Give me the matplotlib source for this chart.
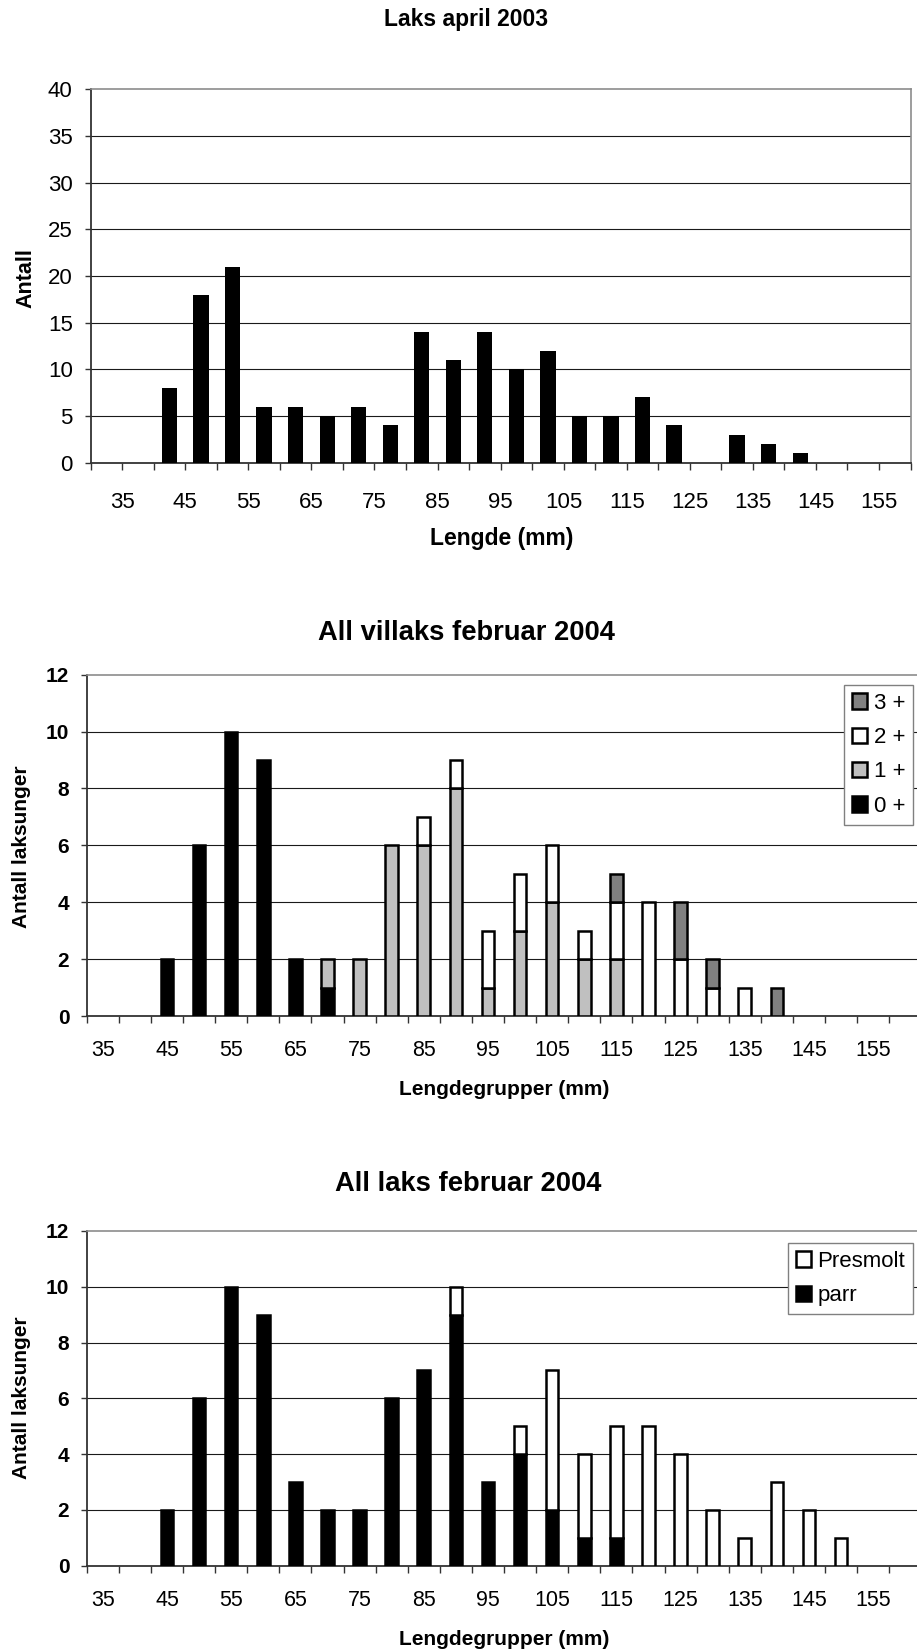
import numpy as np
import matplotlib
matplotlib.use('Agg')
import matplotlib.pyplot as plt

plt.rcParams['font.family'] = ['Liberation Sans', 'DejaVu Sans']

W, H = 917, 1650

# Laks april 2003: lower edge of each 5 mm length bin and number of fish
bins_2003 = [30, 35, 40, 45, 50, 55, 60, 65, 70, 75, 80, 85, 90,
             95, 100, 105, 110, 115, 120, 125, 130, 135, 140, 145, 150, 155]
antall_2003 = [0, 0, 8, 18, 21, 6, 6, 5, 6, 4, 14, 11, 14,
               10, 12, 5, 5, 7, 4, 0, 3, 2, 1, 0, 0, 0]

# Februar 2004: length groups (mm)
grupper_2004 = [35, 40, 45, 50, 55, 60, 65, 70, 75, 80, 85, 90, 95,
                100, 105, 110, 115, 120, 125, 130, 135, 140, 145, 150, 155, 160]

# All villaks februar 2004, by age
alder_0 = [0, 0, 2, 6, 10, 9, 2, 1, 0, 0, 0, 0, 0,
           0, 0, 0, 0, 0, 0, 0, 0, 0, 0, 0, 0, 0]
alder_1 = [0, 0, 0, 0, 0, 0, 0, 1, 2, 6, 6, 8, 1,
           3, 4, 2, 2, 0, 0, 0, 0, 0, 0, 0, 0, 0]
alder_2 = [0, 0, 0, 0, 0, 0, 0, 0, 0, 0, 1, 1, 2,
           2, 2, 1, 2, 4, 2, 1, 1, 0, 0, 0, 0, 0]
alder_3 = [0, 0, 0, 0, 0, 0, 0, 0, 0, 0, 0, 0, 0,
           0, 0, 0, 1, 0, 2, 1, 0, 1, 0, 0, 0, 0]
alder_labels = ['0 +', '1 +', '2 +', '3 +']
alder_colors = ['black', '#c0c0c0', 'white', '#808080']

# All laks februar 2004, parr / presmolt
parr = [0, 0, 2, 6, 10, 9, 3, 2, 2, 6, 7, 9, 3,
        4, 2, 1, 1, 0, 0, 0, 0, 0, 0, 0, 0, 0]
presmolt = [0, 0, 0, 0, 0, 0, 0, 0, 0, 0, 0, 1, 0,
            1, 5, 3, 4, 5, 4, 2, 1, 3, 2, 1, 0, 0]

SPINE = '#333333'
BORDER = '#8c8c8c'


def add_axes_px(fig, left, top, right, bottom):
    return fig.add_axes([left / W, 1 - bottom / H, (right - left) / W, (bottom - top) / H])


def style_frame(ax):
    ax.set_axisbelow(True)
    ax.yaxis.grid(True, color='#1a1a1a', linewidth=0.8)
    ax.get_ygridlines()[-1].set_visible(False)
    for side in ('left', 'bottom'):
        ax.spines[side].set_color(SPINE)
        ax.spines[side].set_linewidth(1.3)
    for side in ('top', 'right'):
        ax.spines[side].set_color(BORDER)
        ax.spines[side].set_linewidth(1.2)


def stacked_bars(ax, x, series, colors, labels):
    x = np.asarray(x)
    bottom = np.zeros(len(x))
    handles = []
    for vals, col, lab in zip(series, colors, labels):
        vals = np.asarray(vals, dtype=float)
        m = vals > 0
        h = ax.bar(x[m], vals[m], bottom=bottom[m], width=1.95, color=col,
                   edgecolor='black', linewidth=1.8, label=lab, zorder=3)
        handles.append(h)
        bottom += vals
    return handles


def group_axis(ax):
    edges = [g - 2.5 for g in grupper_2004] + [grupper_2004[-1] + 2.5]
    ax.set_xlim(edges[0], edges[-1])
    ax.set_xticks(edges)
    ax.set_xticklabels([])
    ax.set_xticks([g for g in grupper_2004 if g % 10 == 5], minor=True)
    ax.set_xticklabels([str(g) for g in grupper_2004 if g % 10 == 5], minor=True)
    ax.tick_params(axis='x', which='major', direction='out', length=5, width=1, color=SPINE)
    ax.tick_params(axis='x', which='minor', length=0, labelsize=15.5, pad=17.5)
    ax.set_ylim(0, 12)
    ax.set_yticks(range(0, 13, 2), labels=[str(v) for v in range(0, 13, 2)],
                  fontweight='bold')
    ax.tick_params(axis='y', direction='out', length=4.5, width=1, color=SPINE,
                   labelsize=15, pad=8)
    style_frame(ax)


def legend_px(ax, handles, labels, right, top):
    leg = ax.legend(handles, labels, loc='upper right',
                    bbox_to_anchor=(right / W, 1 - top / H),
                    bbox_transform=ax.figure.transFigure, borderaxespad=0,
                    fontsize=16, frameon=True, fancybox=False, framealpha=1,
                    edgecolor='#808080', handlelength=0.68, handleheight=0.68,
                    handletextpad=0.3, borderpad=0.35, labelspacing=0.6)
    leg.get_frame().set_linewidth(1.0)
    return leg


fig = plt.figure(figsize=(W / 100, H / 100), dpi=100)

# Laks april 2003
ax1 = add_axes_px(fig, 90.7, 89.3, 910.5, 462.7)
ax1.bar(np.array(bins_2003) + 2.5, antall_2003, width=2.42, color='black', zorder=3)
ax1.set_xlim(30, 160)
ax1.set_ylim(0, 40)
xt = bins_2003 + [160]
ax1.set_xticks(xt)
ax1.set_xticklabels([str(v) if v % 10 == 5 else '' for v in xt])
ax1.set_yticks(range(0, 41, 5))
ax1.tick_params(axis='x', direction='out', length=5, width=1, color=SPINE,
                labelsize=16, pad=16)
ax1.tick_params(axis='y', direction='out', length=4, width=1, color=SPINE,
                labelsize=16, pad=9)
style_frame(ax1)
ax1.set_title('Laks april 2003', fontsize=16.5, fontweight='bold',
              x=0.4584, y=1.164, va='center')
ax1.set_xlabel('Lengde (mm)', fontsize=16.5, fontweight='bold', va='center')
ax1.xaxis.set_label_coords(0.5017, -0.202)
ax1.set_ylabel('Antall', fontsize=15.5, fontweight='bold', va='center')
ax1.yaxis.set_label_coords(-0.079, 0.495)

# All villaks februar 2004
ax2 = add_axes_px(fig, 86.7, 674.7, 921.3, 1016.0)
h2 = stacked_bars(ax2, grupper_2004, [alder_0, alder_1, alder_2, alder_3],
                  alder_colors, alder_labels)
group_axis(ax2)
ax2.set_title('All villaks februar 2004', fontsize=19.7, fontweight='bold',
              x=0.4545, y=1.0985, va='center')
ax2.set_xlabel('Lengdegrupper (mm)', fontsize=15, fontweight='bold', va='center')
ax2.xaxis.set_label_coords(0.5002, -0.216)
ax2.set_ylabel('Antall laksunger', fontsize=15, fontweight='bold', va='center')
ax2.yaxis.set_label_coords(-0.0787, 0.495)
legend_px(ax2, h2[::-1], alder_labels[::-1], 913, 685)

# All laks februar 2004
ax3 = add_axes_px(fig, 86.7, 1231.0, 921.3, 1565.7)
h3 = stacked_bars(ax3, grupper_2004, [parr, presmolt], ['black', 'white'],
                  ['parr', 'Presmolt'])
group_axis(ax3)
ax3.set_title('All laks februar 2004', fontsize=19.7, fontweight='bold',
              x=0.4569, y=1.115, va='center')
ax3.set_xlabel('Lengdegrupper (mm)', fontsize=15, fontweight='bold', va='center')
ax3.xaxis.set_label_coords(0.5002, -0.221)
ax3.set_ylabel('Antall laksunger', fontsize=15, fontweight='bold', va='center')
ax3.yaxis.set_label_coords(-0.0787, 0.501)
legend_px(ax3, h3[::-1], ['Presmolt', 'parr'], 913, 1243)

fig.savefig('out.png', dpi=100)
